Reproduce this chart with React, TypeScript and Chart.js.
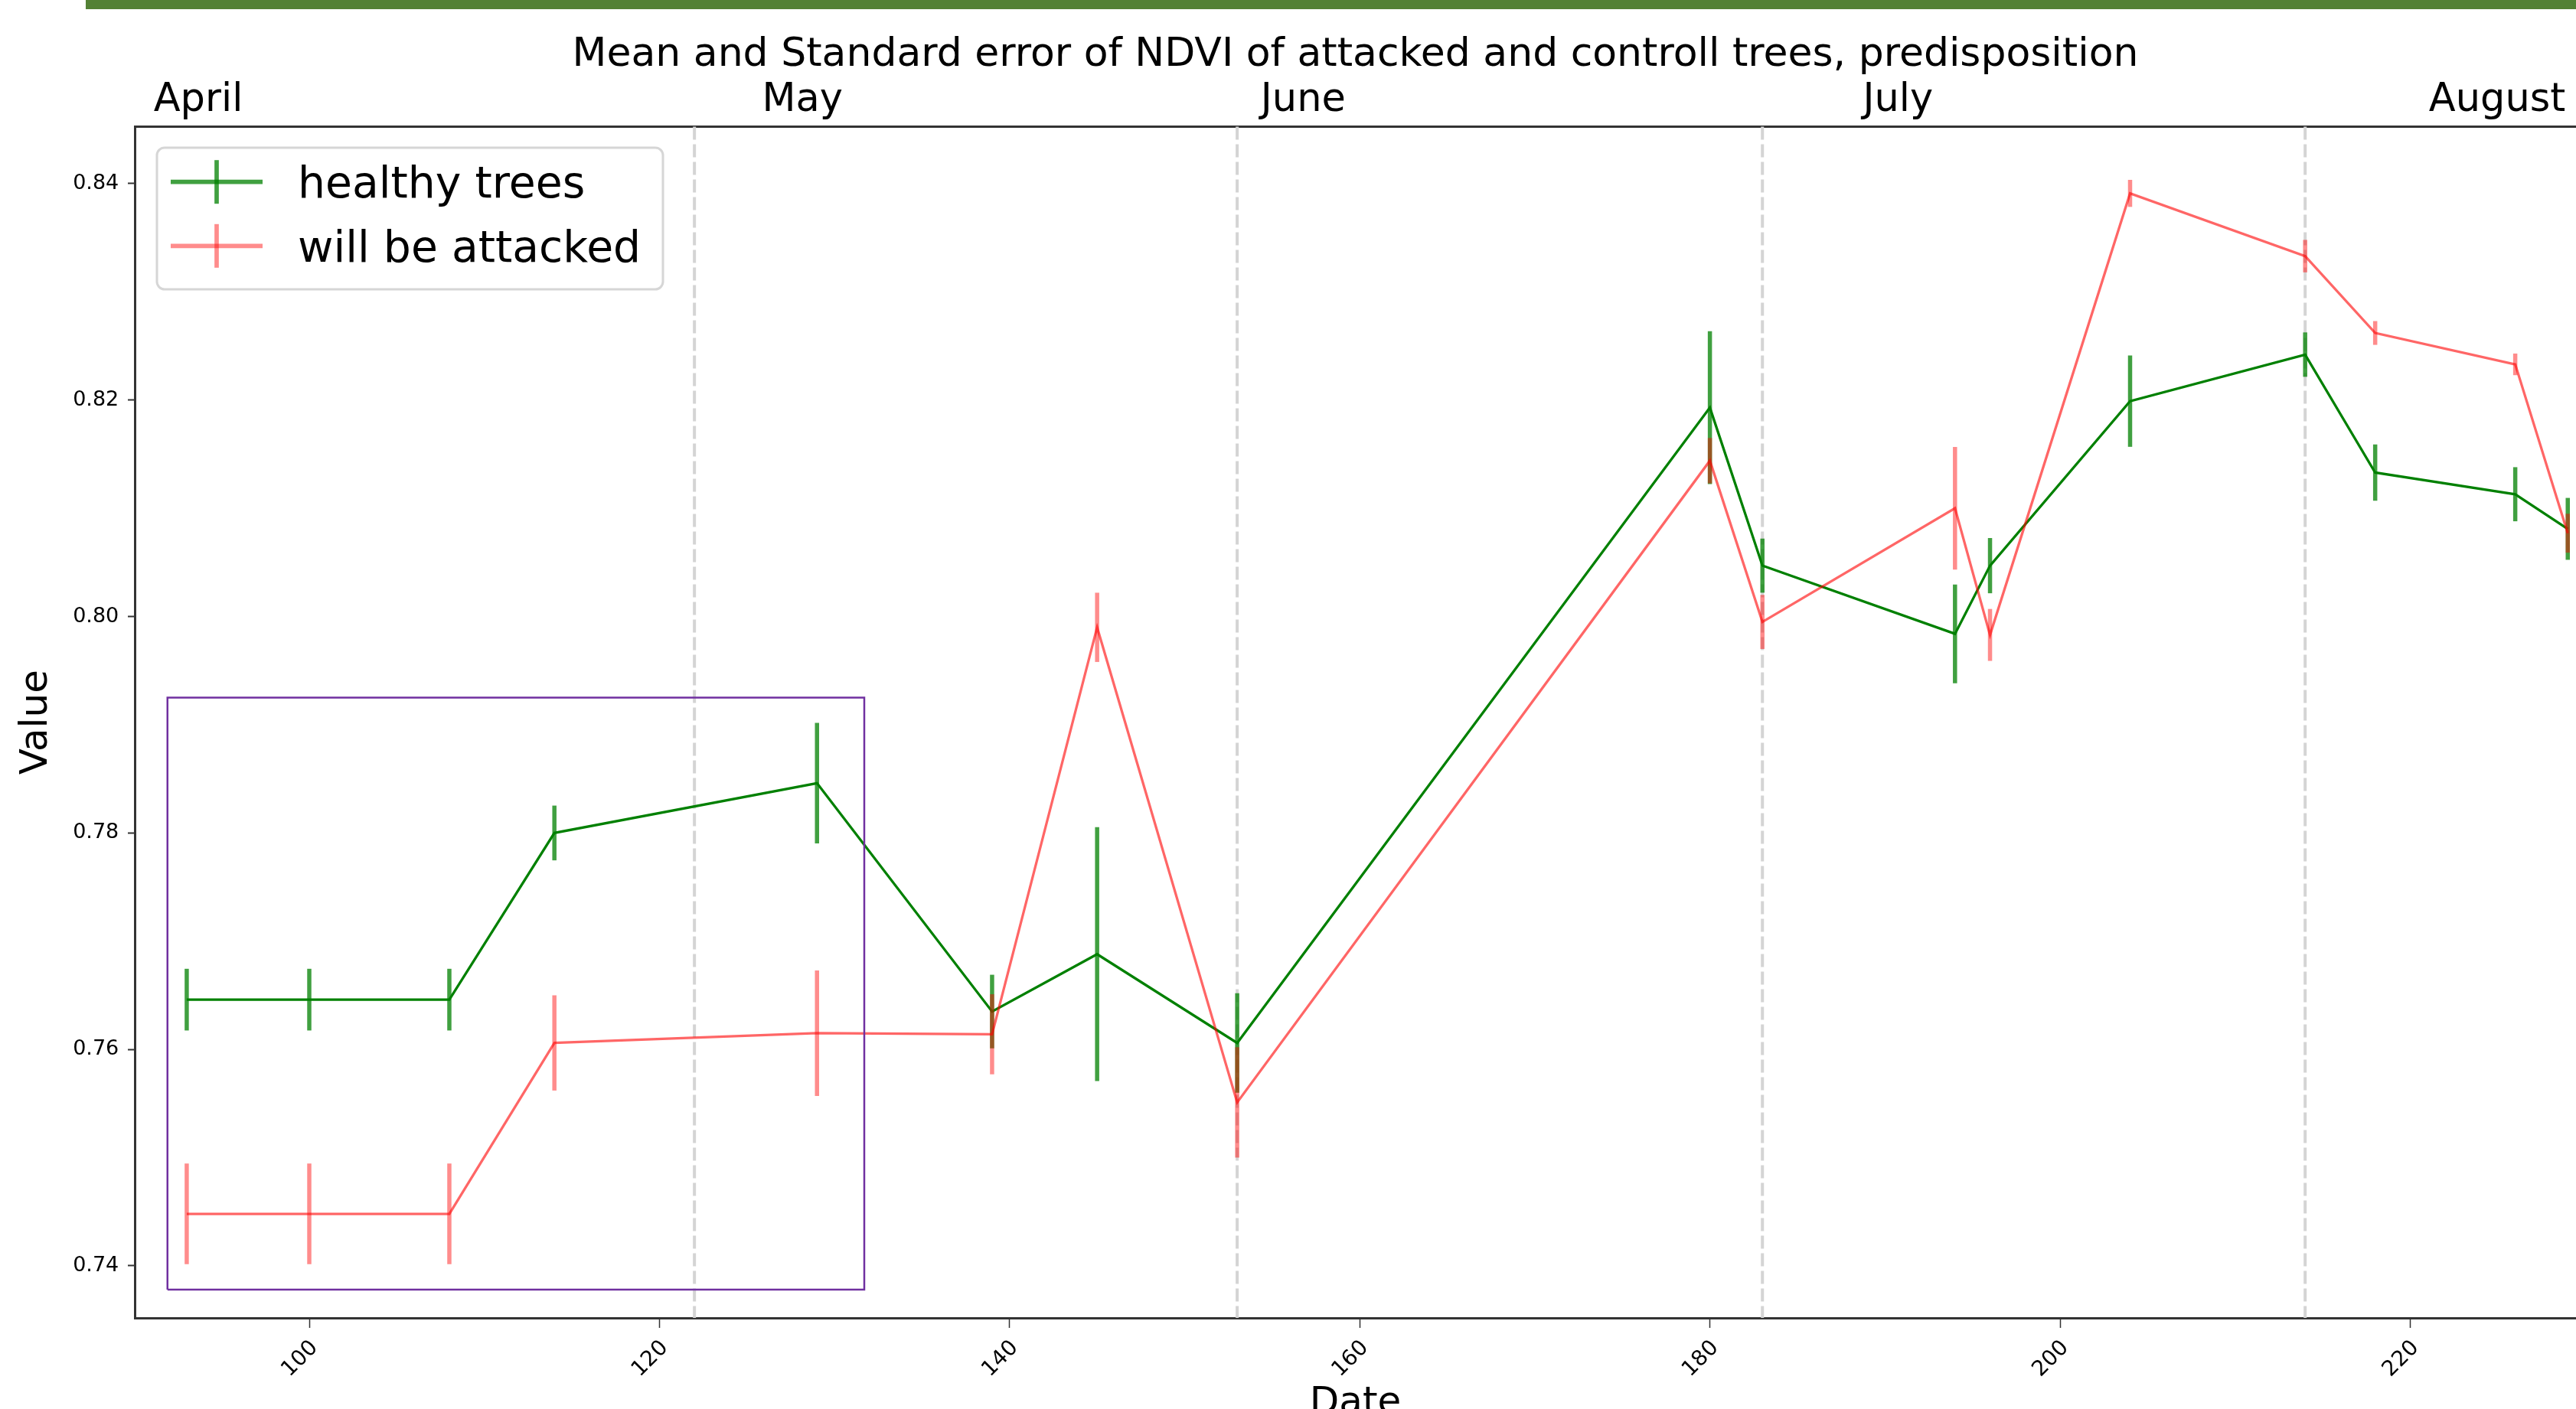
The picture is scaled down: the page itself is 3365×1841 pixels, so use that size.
import React, { useEffect, useRef } from 'react';
import { Chart, registerables } from 'chart.js';

Chart.register(...registerables);

// ---------- data ----------
const days = [93, 100, 108, 114, 129, 139, 145, 153, 180, 183, 194, 196, 204, 214, 218, 226, 229];
const healthyMean = [0.7646, 0.7646, 0.7646, 0.78, 0.7846, 0.7635, 0.7688, 0.7606, 0.8193, 0.8047, 0.7984, 0.8047, 0.8199, 0.8242, 0.8133, 0.8113, 0.8081];
const healthyErr = [0.00285, 0.00285, 0.00285, 0.00253, 0.00557, 0.0034, 0.01173, 0.0046, 0.00706, 0.0025, 0.00456, 0.00255, 0.00422, 0.00205, 0.0026, 0.0025, 0.00286];
const attackedMean = [0.7448, 0.7448, 0.7448, 0.7606, 0.7615, 0.7614, 0.799, 0.7551, 0.8144, 0.7995, 0.81, 0.7983, 0.8391, 0.8333, 0.8262, 0.8233, 0.8077];
const attackedErr = [0.00465, 0.00465, 0.00465, 0.0044, 0.0058, 0.0037, 0.0032, 0.0051, 0.0021, 0.0025, 0.00566, 0.0024, 0.00125, 0.0015, 0.0011, 0.001, 0.0018];
const seriesLabels = ['healthy trees', 'will be attacked'];
const monthNames = ['April', 'May', 'June', 'July', 'August'];
const monthLabelDays = [93.66, 128.17, 156.77, 190.74, 224.97];
const monthStartDays = [122, 153, 183, 214];
const xTicks = [100, 120, 140, 160, 180, 200, 220];
const yTicks = [0.74, 0.76, 0.78, 0.8, 0.82, 0.84];
const boxDays = [91.9, 131.7];
const boxValues = [0.7378, 0.7925];
const chartTitle = 'Mean and Standard error of NDVI of attacked and controll trees, predisposition';

// ---------- style ----------
const W = 3365;
const H = 1900;
const FONT = "'DejaVu Sans', sans-serif";
const GREEN_LINE = '#008000';
const GREEN_ERR = 'rgba(0,128,0,0.75)';
const RED_LINE = 'rgba(255,0,0,0.6)';
const RED_ERR = 'rgba(255,0,0,0.45)';
const X_MIN = 90.03;
const X_MAX = 229.47;
const Y_MIN = 0.73519;
const Y_MAX = 0.84527;

const errSpecs: Record<number, { mean: number[]; err: number[]; color: string }> = {
  0: { mean: healthyMean, err: healthyErr, color: GREEN_ERR },
  1: { mean: attackedMean, err: attackedErr, color: RED_ERR },
};

const errorBarPlugin = {
  id: 'errorBars',
  afterDatasetDraw(chart: any, args: any) {
    const spec = errSpecs[args.index];
    if (!spec) return;
    const { ctx, scales } = chart;
    const x = scales.x;
    const y = scales.y;
    ctx.save();
    ctx.strokeStyle = spec.color;
    ctx.lineWidth = 5.5;
    ctx.lineCap = 'butt';
    spec.mean.forEach((m, i) => {
      const px = x.getPixelForValue(days[i]);
      ctx.beginPath();
      ctx.moveTo(px, y.getPixelForValue(m - spec.err[i]));
      ctx.lineTo(px, y.getPixelForValue(m + spec.err[i]));
      ctx.stroke();
    });
    ctx.restore();
  },
};

const monthLinesPlugin = {
  id: 'monthLines',
  beforeDatasetsDraw(chart: any) {
    const { ctx, chartArea, scales } = chart;
    ctx.save();
    ctx.strokeStyle = '#d4d4d4';
    ctx.lineWidth = 4;
    ctx.setLineDash([17, 6]);
    monthStartDays.forEach((d) => {
      const px = scales.x.getPixelForValue(d);
      ctx.beginPath();
      ctx.moveTo(px, chartArea.top);
      ctx.lineTo(px, chartArea.bottom);
      ctx.stroke();
    });
    ctx.restore();
  },
};

const legendPlugin = {
  id: 'customLegend',
  afterDraw(chart: any) {
    const ctx = chart.ctx;
    ctx.save();
    const bx = 205, by = 193, bw = 661, bh = 185, r = 10;
    ctx.beginPath();
    ctx.moveTo(bx + r, by);
    ctx.lineTo(bx + bw - r, by);
    ctx.arcTo(bx + bw, by, bx + bw, by + r, r);
    ctx.lineTo(bx + bw, by + bh - r);
    ctx.arcTo(bx + bw, by + bh, bx + bw - r, by + bh, r);
    ctx.lineTo(bx + r, by + bh);
    ctx.arcTo(bx, by + bh, bx, by + bh - r, r);
    ctx.lineTo(bx, by + r);
    ctx.arcTo(bx, by, bx + r, by, r);
    ctx.closePath();
    ctx.fillStyle = 'rgba(255,255,255,0.8)';
    ctx.fill();
    ctx.strokeStyle = '#d6d6d6';
    ctx.lineWidth = 3;
    ctx.stroke();
    const rows = [
      { label: seriesLabels[0], color: GREEN_ERR, y: 237.7 },
      { label: seriesLabels[1], color: RED_ERR, y: 321.3 },
    ];
    rows.forEach((row) => {
      ctx.strokeStyle = row.color;
      ctx.lineWidth = 5.7;
      ctx.beginPath();
      ctx.moveTo(223, row.y);
      ctx.lineTo(343, row.y);
      ctx.stroke();
      ctx.beginPath();
      ctx.moveTo(283, row.y - 28.5);
      ctx.lineTo(283, row.y + 28.5);
      ctx.stroke();
      ctx.fillStyle = '#000';
      ctx.font = `56.8px ${FONT}`;
      ctx.textAlign = 'left';
      ctx.textBaseline = 'alphabetic';
      ctx.fillText(row.label, 389, row.y + 20.3);
    });
    ctx.restore();
  },
};

export default function App() {
  const canvasRef = useRef<HTMLCanvasElement | null>(null);

  useEffect(() => {
    document.body.style.margin = '0';
    document.body.style.overflow = 'hidden';
    const canvas = canvasRef.current;
    if (!canvas) return;
    const healthyData = days.map((d, i) => ({ x: d, y: healthyMean[i] }));
    const attackedData = days.map((d, i) => ({ x: d, y: attackedMean[i] }));
    const boxData = [
      { x: boxDays[0], y: boxValues[0] },
      { x: boxDays[1], y: boxValues[0] },
      { x: boxDays[1], y: boxValues[1] },
      { x: boxDays[0], y: boxValues[1] },
      { x: boxDays[0], y: boxValues[0] },
    ];
    const chart = new Chart(canvas, {
      type: 'line',
      data: {
        datasets: [
          {
            label: seriesLabels[0],
            data: healthyData,
            borderColor: GREEN_LINE,
            borderWidth: 3.3,
            pointRadius: 0,
            tension: 0,
            fill: false,
            order: 2,
          },
          {
            label: seriesLabels[1],
            data: attackedData,
            borderColor: RED_LINE,
            borderWidth: 3.3,
            pointRadius: 0,
            tension: 0,
            fill: false,
            order: 1,
          },
          {
            label: 'box',
            data: boxData,
            borderColor: '#7030a0',
            borderWidth: 2.5,
            pointRadius: 0,
            tension: 0,
            fill: false,
            order: 0,
          },
        ],
      },
      options: {
        animation: false,
        responsive: false,
        maintainAspectRatio: false,
        devicePixelRatio: 1,
        layout: { padding: 0 },
        plugins: {
          legend: { display: false },
          tooltip: { enabled: false },
          title: {
            display: true,
            text: chartTitle,
            color: '#000',
            fullSize: false,
            font: { family: FONT, size: 52, weight: 'normal' },
            padding: { top: 41, bottom: 0 },
          },
        },
        scales: {
          x: {
            type: 'linear',
            position: 'bottom',
            min: X_MIN,
            max: X_MAX,
            afterBuildTicks: (s: any) => {
              s.ticks = xTicks.map((v) => ({ value: v }));
            },
            afterFit: (s: any) => {
              s.height = H - 1722;
            },
            ticks: {
              autoSkip: false,
              minRotation: 45,
              maxRotation: 45,
              padding: 10,
              labelOffset: 7,
              color: '#000',
              font: { family: FONT, size: 28 },
              callback: (v: any) => String(v),
            },
            grid: {
              drawOnChartArea: false,
              drawTicks: true,
              tickLength: 13,
              tickWidth: 1.5,
              tickColor: '#333',
              color: '#333',
            },
            border: { display: true, color: '#333', width: 3 },
            title: {
              display: true,
              text: 'Date',
              color: '#000',
              font: { family: FONT, size: 50 },
              padding: { top: 0, bottom: 36 },
            },
          },
          x2: {
            type: 'linear',
            position: 'top',
            min: X_MIN,
            max: X_MAX,
            afterBuildTicks: (s: any) => {
              s.ticks = monthLabelDays.map((v) => ({ value: v }));
            },
            afterFit: (s: any) => {
              s.height = 62;
            },
            ticks: {
              autoSkip: false,
              maxRotation: 0,
              minRotation: 0,
              padding: 3,
              color: '#000',
              font: { family: FONT, size: 51 },
              callback: (_v: any, i: number) => monthNames[i],
            },
            grid: { drawOnChartArea: false, drawTicks: false },
            border: { display: true, color: '#333', width: 3 },
          },
          y: {
            type: 'linear',
            position: 'left',
            min: Y_MIN,
            max: Y_MAX,
            afterBuildTicks: (s: any) => {
              s.ticks = yTicks.map((v) => ({ value: v }));
            },
            afterFit: (s: any) => {
              s.width = 176;
            },
            ticks: {
              padding: 11.7,
              color: '#000',
              font: { family: FONT, size: 27 },
              callback: (v: any) => Number(v).toFixed(2),
            },
            grid: {
              drawOnChartArea: false,
              drawTicks: true,
              tickLength: 9,
              tickWidth: 2,
              tickColor: '#333',
              color: '#333',
            },
            border: { display: true, color: '#333', width: 3 },
            title: {
              display: true,
              text: 'Value',
              color: '#000',
              font: { family: FONT, size: 50 },
              padding: { top: 17.7, bottom: 0 },
            },
          },
        },
      },
      plugins: [monthLinesPlugin, errorBarPlugin, legendPlugin],
    } as any);
    return () => chart.destroy();
  }, []);

  return (
    <div style={{ position: 'relative', width: W, height: 1841, overflow: 'hidden', background: '#fff' }}>
      <canvas
        ref={canvasRef}
        width={W}
        height={H}
        style={{ position: 'absolute', left: 0, top: 0, width: W, height: H }}
      />
      <div
        style={{ position: 'absolute', left: 112, top: 0, width: W - 112, height: 12, background: '#538135', zIndex: 1 }}
      />
    </div>
  );
}
